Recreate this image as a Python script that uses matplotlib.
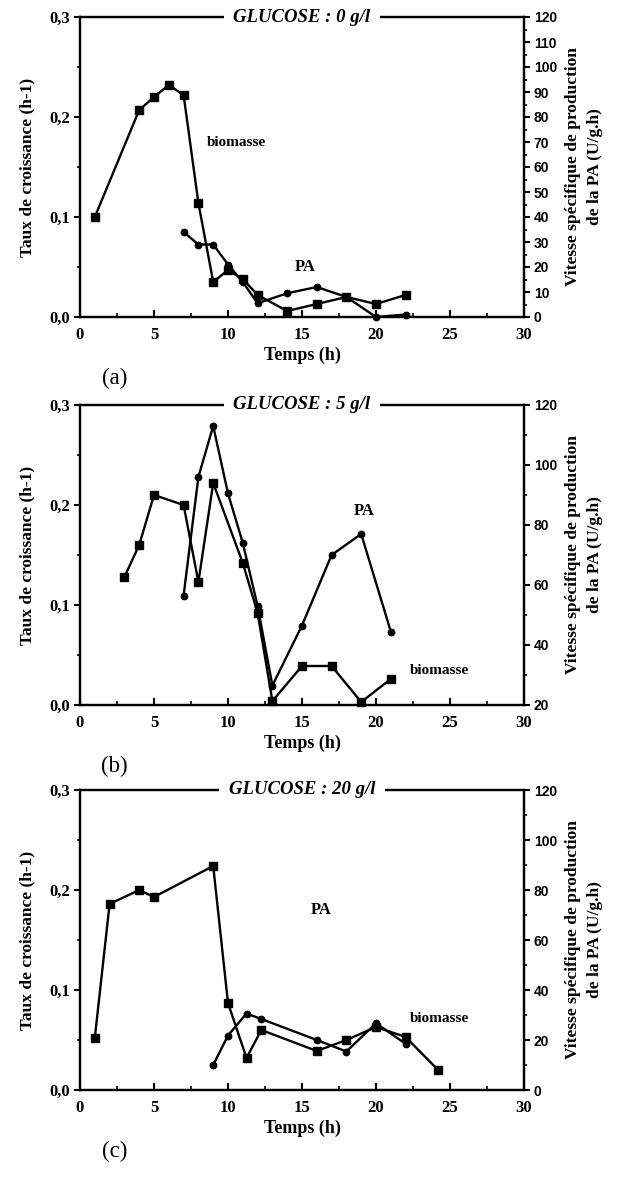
import matplotlib
matplotlib.use("Agg")
import matplotlib.pyplot as plt
from matplotlib.ticker import MultipleLocator, FuncFormatter

# ---------------- data ----------------
# Panel (a) GLUCOSE : 0 g/l
a_bio_t = [1, 4, 5, 6, 7, 8, 9, 10, 11, 12, 14, 16, 18, 20, 22]
a_bio_mu = [0.100, 0.207, 0.220, 0.232, 0.222, 0.114, 0.035, 0.047, 0.038, 0.022,
            0.006, 0.013, 0.020, 0.013, 0.022]
a_pa_t = [7, 8, 9, 10, 11, 12, 14, 16, 18, 20, 22]
a_pa_v = [34, 29, 29, 21, 14, 5.5, 9.5, 12, 8, 0, 1]

# Panel (b) GLUCOSE : 5 g/l
b_bio_t = [3, 4, 5, 7, 8, 9, 11, 12, 13, 15, 17, 19, 21]
b_bio_mu = [0.128, 0.160, 0.210, 0.200, 0.123, 0.222, 0.142, 0.092, 0.004,
            0.039, 0.039, 0.003, 0.026]
b_pa_t = [7, 8, 9, 10, 11, 12, 13, 15, 17, 19, 21]
b_pa_v = [56.5, 96, 113, 90.5, 74, 53, 26.5, 46.5, 70, 77, 44.5]

# Panel (c) GLUCOSE : 20 g/l
c_bio_t = [1, 2, 4, 5, 9, 10, 11.25, 12.25, 16, 18, 20, 22, 24.2]
c_bio_mu = [0.052, 0.186, 0.200, 0.193, 0.224, 0.087, 0.032, 0.060, 0.039,
            0.050, 0.063, 0.053, 0.020]
c_pa_t = [9, 10, 11.25, 12.25, 16, 18, 20, 22]
c_pa_v = [10, 21.8, 30.6, 28.4, 20, 15.4, 26.7, 18.5]

titles = ["GLUCOSE : 0 g/l", "GLUCOSE : 5 g/l", "GLUCOSE : 20 g/l"]
letters = ["(a)", "(b)", "(c)"]
right_lims = [(0, 120), (20, 120), (0, 120)]
right_major = [10, 20, 20]
right_minor = [5, 10, 10]
bio_label_pos = [(8.6, 0.175, "left"), (22.3, 0.035, "left"), (22.3, 0.072, "left")]
pa_label_pos = [(15.2, 0.05, "center"), (19.2, 0.194, "center"), (16.3, 0.180, "center")]

x_label = "Temps (h)"
left_label = "Taux de croissance (h-1)"
right_label = "Vitesse spécifique de production\nde la PA (U/g.h)"

panels = [
    (a_bio_t, a_bio_mu, a_pa_t, a_pa_v),
    (b_bio_t, b_bio_mu, b_pa_t, b_pa_v),
    (c_bio_t, c_bio_mu, c_pa_t, c_pa_v),
]

# ---------------- figure ----------------
W, H = 627, 1202
fig = plt.figure(figsize=(W / 100, H / 100), dpi=100)
fig.patch.set_facecolor("white")

serif = ["Liberation Serif", "DejaVu Serif"]
sans = ["Liberation Sans", "DejaVu Sans"]

tops = [17, 405, 790]
ax_h = 300
left_px, right_px = 80, 524

comma = FuncFormatter(lambda v, p: f"{v:.1f}".replace(".", ","))

for i, (bt, bm, pt, pv) in enumerate(panels):
    top = tops[i]
    rect = [left_px / W, 1 - (top + ax_h) / H, (right_px - left_px) / W, ax_h / H]
    ax = fig.add_axes(rect)
    ax2 = ax.twinx()

    ax.plot(bt, bm, color="black", lw=1.7, marker="s", ms=5.2, mfc="black",
            mec="black", clip_on=False, zorder=3)
    ax2.plot(pt, pv, color="black", lw=1.7, marker="o", ms=4.6, mfc="black",
             mec="black", clip_on=False, zorder=3)

    ax.set_xlim(0, 30)
    ax.set_ylim(0, 0.3)
    ax2.set_ylim(*right_lims[i])

    ax.xaxis.set_major_locator(MultipleLocator(5))
    ax.xaxis.set_minor_locator(MultipleLocator(2.5))
    ax.yaxis.set_major_locator(MultipleLocator(0.1))
    ax.yaxis.set_minor_locator(MultipleLocator(0.05))
    ax.yaxis.set_major_formatter(comma)
    ax2.yaxis.set_major_locator(MultipleLocator(right_major[i]))
    ax2.yaxis.set_minor_locator(MultipleLocator(right_minor[i]))

    ax.tick_params(axis="x", which="major", direction="in", length=5, width=1.5,
                   pad=7)
    ax.tick_params(axis="x", which="minor", direction="in", length=3, width=1.2)
    ax.tick_params(axis="y", which="major", direction="out", length=4, width=1.5,
                   pad=3)
    ax.tick_params(axis="y", which="minor", direction="out", length=2.5, width=1.2)
    ax2.tick_params(axis="y", which="major", direction="out", length=4, width=1.5,
                    pad=3)
    ax2.tick_params(axis="y", which="minor", direction="out", length=2.5, width=1.2)

    for lab in ax.get_xticklabels() + ax.get_yticklabels():
        lab.set_fontfamily(serif)
        lab.set_fontweight("bold")
        lab.set_fontsize(12)
    for lab in ax2.get_yticklabels():
        lab.set_fontfamily(sans)
        lab.set_fontweight("bold")
        lab.set_fontsize(10)

    for s in ax.spines.values():
        s.set_linewidth(1.6)
    for s in ax2.spines.values():
        s.set_linewidth(1.6)

    ax.set_xlabel(x_label, fontfamily=serif, fontweight="bold", fontsize=13,
                  labelpad=3)
    ax.set_ylabel(left_label, fontfamily=serif, fontweight="bold", fontsize=12.5,
                  labelpad=10)
    ax2.set_ylabel(right_label, fontfamily=serif, fontweight="bold", fontsize=12.5,
                   labelpad=6, linespacing=1.45)

    ax2.text(0.5, 1.0, titles[i], transform=ax2.transAxes, ha="center",
             va="center", fontfamily=serif, fontweight="bold", style="italic",
             fontsize=13.5, zorder=10, clip_on=False,
             bbox=dict(facecolor="white", edgecolor="none", pad=7))

    bx, by, bha = bio_label_pos[i]
    ax.text(bx, by, "biomasse", ha=bha, va="center", fontfamily=serif,
            fontweight="bold", fontsize=11)
    px_, py_, pha = pa_label_pos[i]
    ax.text(px_, py_, "PA", ha=pha, va="center", fontfamily=serif,
            fontweight="bold", fontsize=12)

    ax.text(0.078, -0.205, letters[i], transform=ax.transAxes, ha="center",
            va="center", fontfamily=serif, fontsize=16.5)

fig.savefig("out.png", dpi=100, facecolor="white")
